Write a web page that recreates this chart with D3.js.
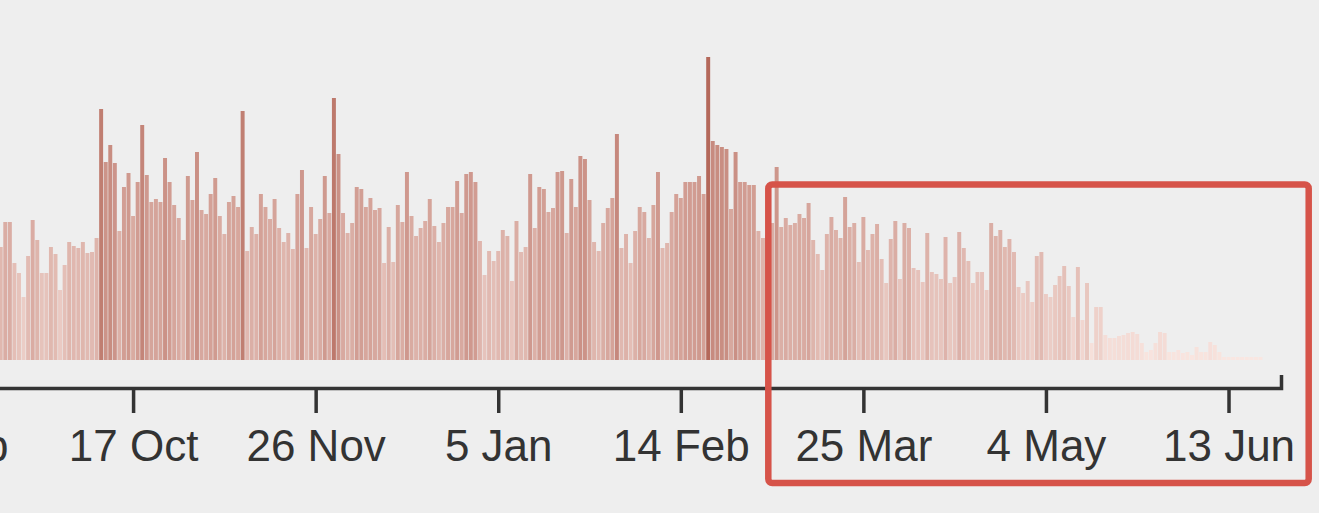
<!DOCTYPE html>
<html>
<head>
<meta charset="utf-8">
<script src="https://cdn.jsdelivr.net/npm/d3@7"></script>
<style>
  html, body { margin: 0; padding: 0; background: #eeeeee; }
  svg { display: block; }
</style>
</head>
<body>
<svg id="chart" width="1319" height="513"></svg>
<script>
// ---- data (daily values, first bar = startDate) ----
const startDate = "2019-09-18";
const values = [
  113,138,138,97,87,63,104,140,120,87,87,113,106,70,95,118,114,112,118,107,108,122,251,198,215,197,129,173,187,
  144,178,235,185,158,161,158,202,178,155,142,120,184,160,208,150,146,166,182,144,126,158,164,153,249,109,133,126,166,153,141,161,132,118,127,111,166,190,112,153,126,141,184,
  147,262,206,147,127,137,173,171,153,162,150,152,97,133,98,155,138,188,144,124,132,139,161,134,118,137,153,153,179,147,186,188,178,119,85,
  109,99,109,130,124,79,139,108,113,186,132,173,171,148,152,188,189,127,181,153,204,201,160,118,109,137,152,162,226,112,126,97,129,153,148,
  122,155,188,112,117,148,166,162,178,178,178,184,166,303,219,215,213,211,151,208,178,178,175,175,129,122,125,137,193,133,142,135,137,146,142,157,120,
  106,90,126,143,130,122,163,133,137,98,143,110,126,136,101,77,121,139,81,137,132,92,90,78,127,88,86,81,123,77,83,128,112,
  99,77,88,88,70,137,124,130,113,121,108,73,67,79,58,104,108,66,63,75,84,94,74,43,93,40,77,17,53,53,25,22,22,24,
  25,27,28,26,17,8,10,17,28,27,8,8,10,7,8,5,13,8,8,18,15,8,3,3,3,3,3,3,3,3,3,0,0,0,0
];
const tickDates = ["2019-09-07","2019-10-17","2019-11-26","2020-01-05","2020-02-14","2020-03-25","2020-05-04","2020-06-13"];
const axisStart = "2019-09-01";

// ---- layout ----
const W = 1319, H = 513;
const margin = { left: -76.875, right: 38 };
const barBase = 360, barTop = 57, axisY = 388;
const highlight = { x: 768.3, y: 184.5, w: 540.4, h: 298.5 };

const parse = d3.utcParse("%Y-%m-%d");
const d0 = parse(startDate);
const data = values.map((v, i) => ({ date: d3.utcDay.offset(d0, i), value: v }));
const lastDate = data[data.length - 1].date;

const x = d3.scaleUtc()
  .domain([parse(axisStart), new Date(lastDate.getTime() + 12 * 3600 * 1000)])
  .range([margin.left, W - margin.right]);
const y = d3.scaleLinear().domain([0, d3.max(values)]).range([barBase, barTop]);
const color = d3.scaleLinear().domain([0, d3.max(values)]).range(["#fae7e2", "#b4685a"]);

const svg = d3.select("#chart");
svg.append("rect").attr("width", W).attr("height", H).attr("fill", "#eeeeee");

const dayW = x(d3.utcDay.offset(d0, 1)) - x(d0);
const bw = dayW - 0.6;

svg.append("g").selectAll("rect").data(data).join("rect")
  .attr("x", d => x(d.date) - bw / 2)
  .attr("width", bw)
  .attr("y", d => y(d.value))
  .attr("height", d => barBase - y(d.value))
  .attr("fill", d => color(d.value));

const axis = d3.axisBottom(x)
  .tickValues(tickDates.map(parse))
  .tickFormat(d3.utcFormat("%-d %b"))
  .tickSizeInner(25)
  .tickSizeOuter(-13)
  .tickPadding(17);

const gx = svg.append("g").attr("transform", `translate(0,${axisY})`).call(axis);
gx.select(".domain").attr("stroke", "#333").attr("stroke-width", 3.5).attr("fill", "none");
gx.selectAll(".tick line").attr("stroke", "#333").attr("stroke-width", 3.5);
gx.selectAll(".tick text")
  .attr("fill", "#333")
  .style("font-family", "'Liberation Sans', Arial, sans-serif")
  .style("font-size", "44px");

// highlight annotation box
svg.append("rect")
  .attr("x", highlight.x).attr("y", highlight.y)
  .attr("width", highlight.w).attr("height", highlight.h)
  .attr("rx", 4)
  .attr("fill", "none")
  .attr("stroke", "#d65349")
  .attr("stroke-width", 6.5);
</script>
</body>
</html>
